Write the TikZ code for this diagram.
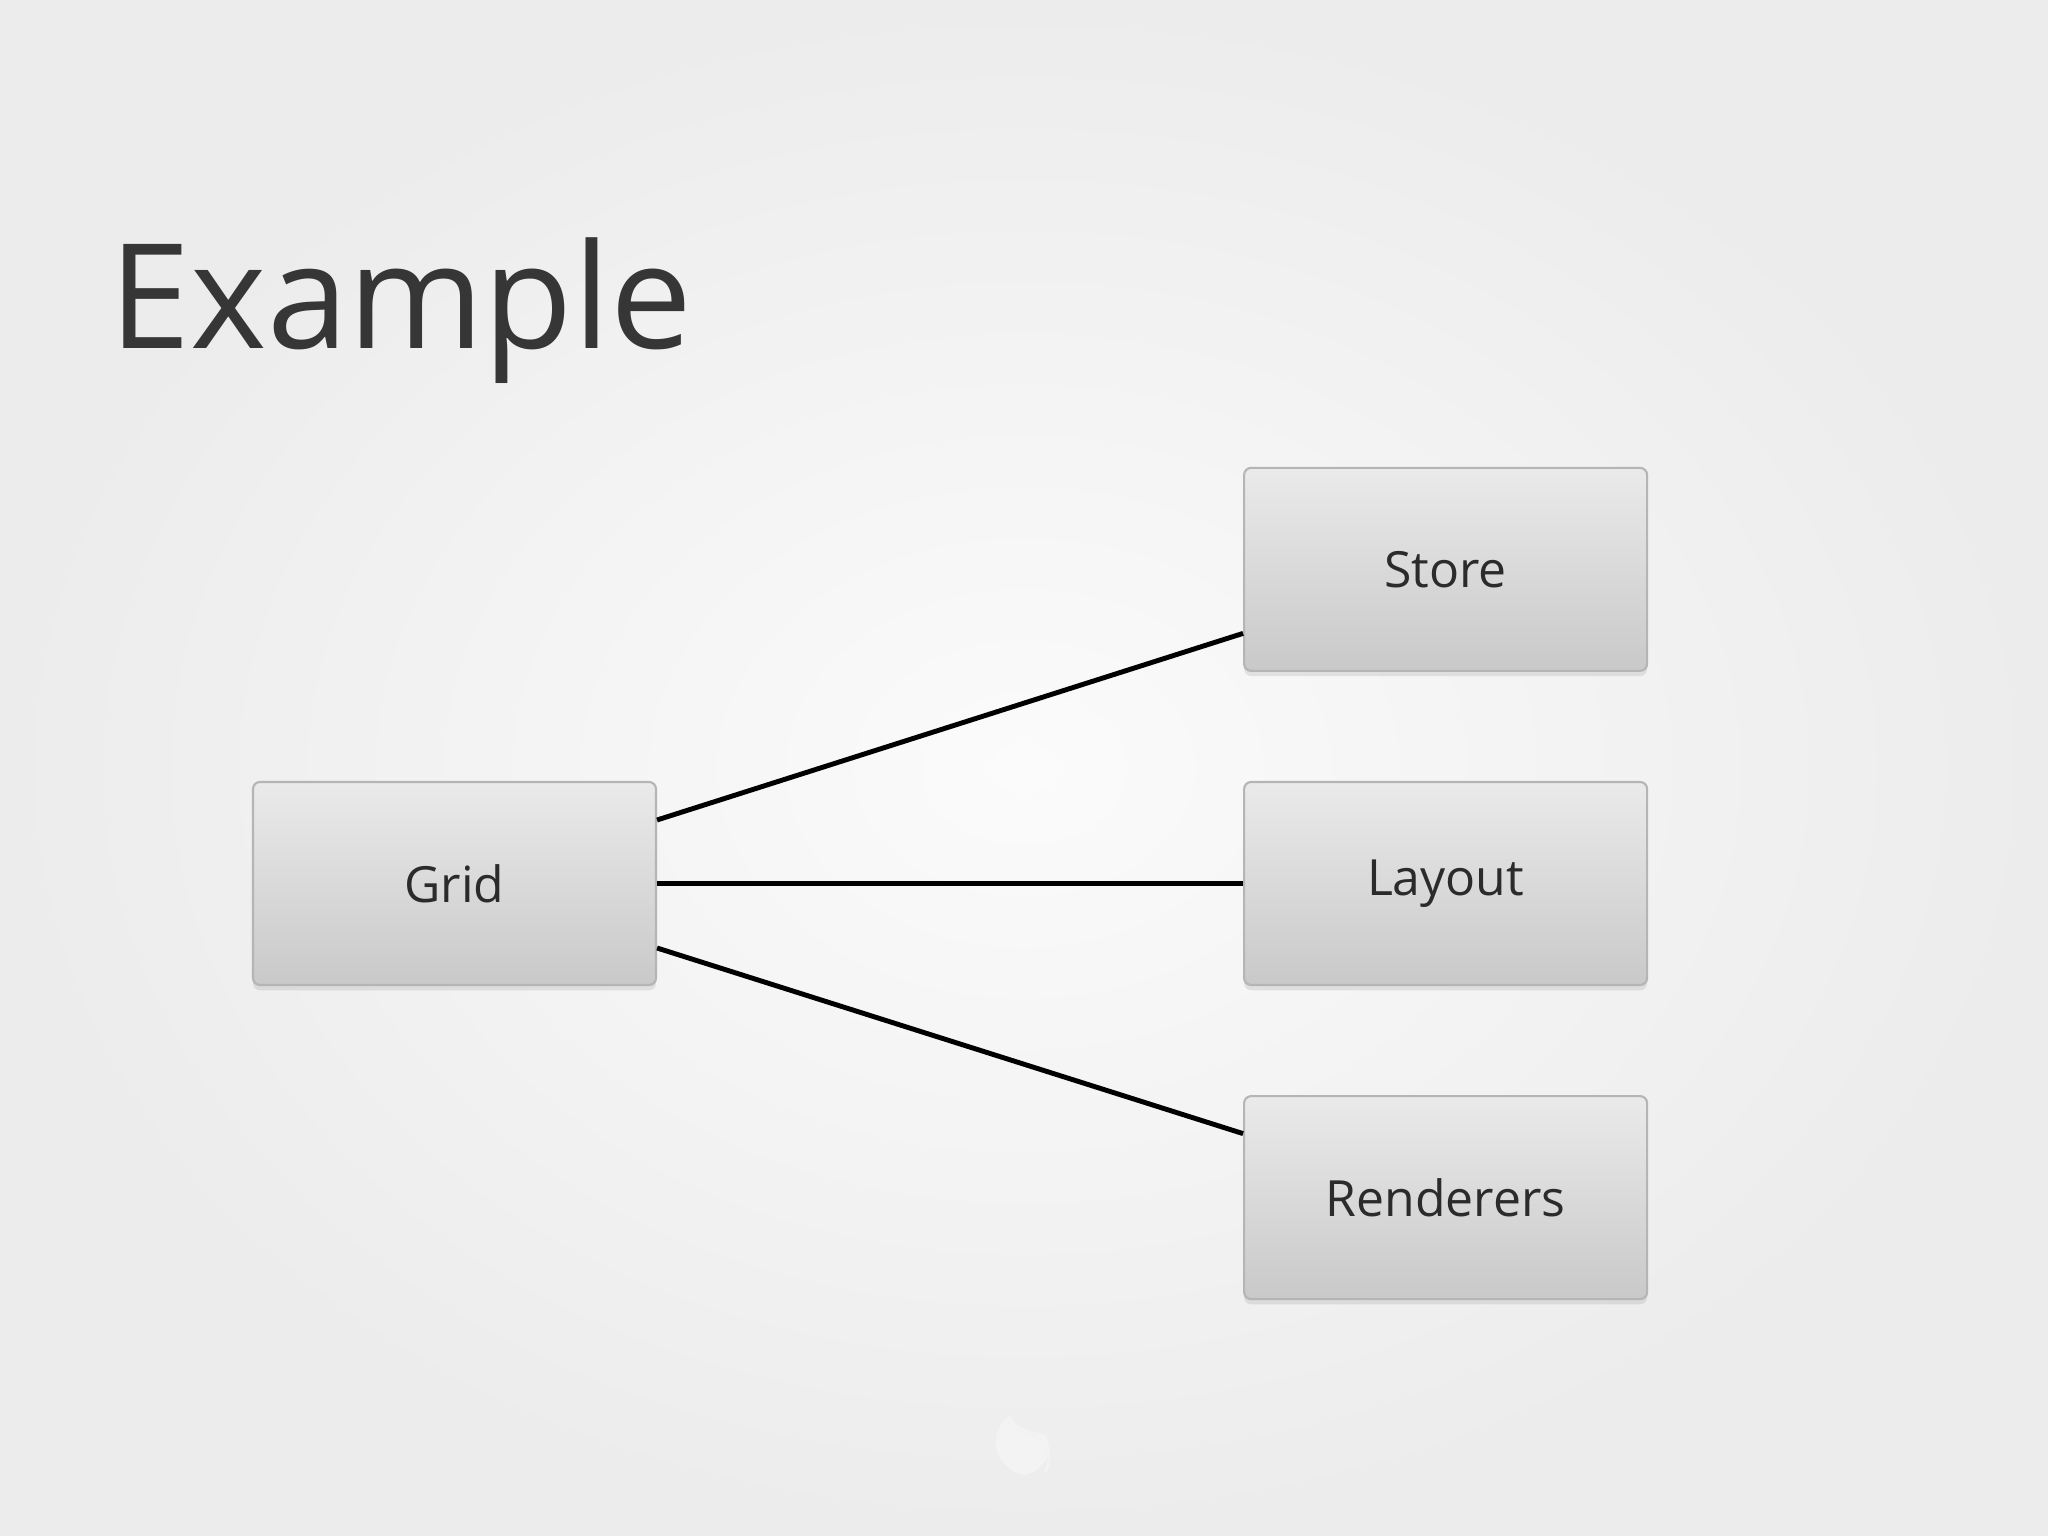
\documentclass[tikz,border=0pt]{standalone}
\usepackage{fontspec}
\setmainfont{Open Sans}
\usepackage{tikz}
\usetikzlibrary{positioning}
\usetikzlibrary{shadows}
\definecolor{bgin}{HTML}{FBFBFB}
\definecolor{bgout}{HTML}{ECECEC}
\definecolor{boxtop}{HTML}{EAEAEA}
\definecolor{boxbot}{HTML}{C9C9C9}
\definecolor{boxline}{HTML}{B5B5B5}
\definecolor{ink}{HTML}{2B2B2B}
\tikzstyle{mod} = [rectangle, draw=boxline, line width=0.6pt, top color=boxtop,
    bottom color=boxbot, rounded corners=2pt, minimum width=4.03cm,
    minimum height=2.03cm, text=ink, font=\fontsize{14.2}{17}\selectfont,
    drop shadow={opacity=0.18, shadow xshift=0pt, shadow yshift=-1.5pt}]
\tikzstyle{wire} = [line width=1.4pt, black]

\begin{document}
\begin{tikzpicture}[node distance=1.09cm and 5.86cm]

  % slide background
  \shade[inner color=bgin, outer color=bgout] (0,0) rectangle (20.48,-15.36);
  \useasboundingbox (0,0) rectangle (20.48,-15.36);

  \node[anchor=base west, inner sep=0pt, text=ink!95,
        font=\fontsize{41.5}{50}\selectfont] (title) at (1.09,-3.49) {Example};

  \node[mod]  (grid)   at (4.545,-8.835) {Grid};
  \node[mod]  (layout) [right=of grid]  {Layout};
  \node[mod]  (store)  [above=of layout] {Store};
  \node[mod]  (rend)   [below=of layout] {Renderers};

  \draw[wire] ([yshift=0.635cm]grid.east) -- ([yshift=-0.64cm]store.west);
  \draw[wire] (grid.east) -- (layout.west);
  \draw[wire] ([yshift=-0.645cm]grid.east) -- ([yshift=0.64cm]rend.west);

  % faint logo mark
  \fill[white, opacity=0.35] (10.10,-14.15) .. controls (9.85,-14.35) and (9.95,-14.70) .. (10.25,-14.75)
        .. controls (10.45,-14.70) and (10.55,-14.50) .. (10.45,-14.35)
        .. controls (10.30,-14.30) and (10.15,-14.30) .. (10.10,-14.15) -- cycle;
  \draw[black!5, line width=0.8pt] (10.10,-14.15) .. controls (10.05,-14.25) and (10.15,-14.30) .. (10.30,-14.33)
        .. controls (10.45,-14.38) and (10.55,-14.55) .. (10.45,-14.72);
\end{tikzpicture}
\end{document}
